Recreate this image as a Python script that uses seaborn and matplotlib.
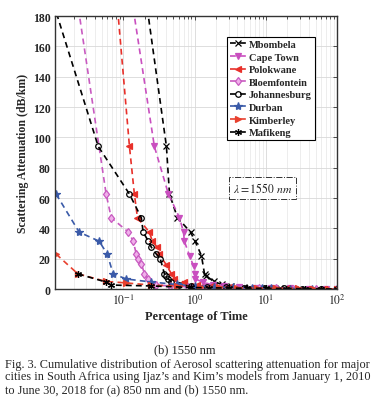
import matplotlib
matplotlib.use("Agg")
import pandas as pd
import matplotlib.pyplot as plt
import seaborn as sns
from matplotlib.ticker import LogLocator, NullFormatter, FixedLocator

# percentage of time (%) vs scattering attenuation (dB/km)
mbombela_pct = [0.196, 0.403, 0.445, 0.576, 0.878, 1.02, 1.25, 1.38, 1.47, 1.85, 2.4, 3.2, 5.0, 9.0, 16, 30, 55, 100]
mbombela_att = [200, 94, 62.6, 47, 37.5, 31.5, 22, 10, 8.6, 5, 3, 1.8, 1.2, 0.8, 0.5, 0.3, 0.2, 0]

capetown_pct = [0.123, 0.273, 0.43, 0.615, 0.70, 0.72, 0.85, 0.97, 1.0, 1.03, 1.3, 1.8, 2.6, 4.2, 7, 12, 22, 40, 70, 100]
capetown_att = [200, 94, 62.6, 47, 37.5, 31.5, 22, 15, 10, 6.6, 4.6, 2.6, 1.8, 1.2, 0.8, 0.6, 0.4, 0.3, 0.2, 0]

polokwane_pct = [0.078, 0.122, 0.143, 0.158, 0.232, 0.256, 0.30, 0.32, 0.40, 0.474, 0.52, 0.7, 1.1, 1.7, 3, 6, 11, 20, 38, 65, 100]
polokwane_att = [200, 94, 62.6, 47, 37.5, 31.5, 27.5, 23, 16, 10, 6.6, 4.6, 2.6, 1.8, 1.2, 0.8, 0.6, 0.4, 0.3, 0.2, 0]

bloem_pct = [0.021, 0.0574, 0.0677, 0.118, 0.138, 0.152, 0.163, 0.18, 0.198, 0.225, 0.291, 0.45, 0.8, 1.4, 2.3, 4.5, 8, 14, 26, 50, 100]
bloem_att = [200, 62.6, 47, 37.5, 31.5, 23, 20, 16.5, 10, 6.6, 2.6, 2, 1.5, 1.1, 0.8, 0.6, 0.5, 0.4, 0.3, 0.2, 0]

joburg_pct = [0.0105, 0.0445, 0.122, 0.179, 0.19, 0.225, 0.248, 0.291, 0.33, 0.378, 0.403, 0.43, 0.474, 0.6, 0.9, 1.5, 2.8, 5, 9.5, 18, 32, 60, 100]
joburg_att = [188, 94, 62.6, 47, 37.5, 31.5, 27.5, 23, 20, 10, 8.6, 6.6, 4.6, 2.6, 2, 1.4, 1.0, 0.7, 0.5, 0.4, 0.3, 0.2, 0]

durban_pct = [0.0114, 0.024, 0.0459, 0.0595, 0.072, 0.11, 0.248, 0.56, 1.0, 1.9, 3.5, 6.5, 8.8, 12, 22, 45, 100]
durban_att = [62.6, 37.5, 31.5, 23, 10, 6.6, 4.6, 3, 2, 1.4, 1.0, 0.7, 0.5, 0.4, 0.3, 0.2, 0]

kimberley_pct = [0.0114, 0.023, 0.057, 0.11, 0.248, 0.56, 1.2, 2.2, 4, 7.5, 14, 28, 48, 75, 100]
kimberley_att = [23, 10, 5, 4, 2.6, 2, 1.5, 1.1, 0.8, 0.6, 0.5, 0.4, 0.3, 0.2, 0]

mafikeng_pct = [0.023, 0.057, 0.068, 0.248, 0.9, 1.6, 3, 5.5, 10, 19, 35, 60, 100]
mafikeng_att = [10, 4.6, 2.6, 2, 1, 0.8, 0.6, 0.5, 0.4, 0.3, 0.2, 0.1, 0]

cities = ["Mbombela", "Cape Town", "Polokwane", "Bloemfontein",
          "Johannesburg", "Durban", "Kimberley", "Mafikeng"]
pcts = [mbombela_pct, capetown_pct, polokwane_pct, bloem_pct,
        joburg_pct, durban_pct, kimberley_pct, mafikeng_pct]
atts = [mbombela_att, capetown_att, polokwane_att, bloem_att,
        joburg_att, durban_att, kimberley_att, mafikeng_att]

colors = ["black", "#c94fbf", "#e8302a", "#c85ac0", "black", "#3a5aa8", "#e8402e", "black"]
markers = ["x", "v", "<", "d", "o", "*", ">", (6, 2, 0)]
facecolors = ["black", "#c94fbf", "#e8302a", "#f0b0ea", "none", "#3a5aa8", "#e8402e", "black"]
msizes = [4, 5, 5, 4.5, 4, 6, 5, 5]

rows = []
for city, p, a in zip(cities, pcts, atts):
    for x, y in zip(p, a):
        rows.append({"City": city, "Percentage": x, "Attenuation": y})
df = pd.DataFrame(rows)

sns.set_theme(style="whitegrid")
plt.rcParams["font.family"] = ["Liberation Serif", "DejaVu Serif"]
plt.rcParams["mathtext.fontset"] = "stix"

fig = plt.figure(figsize=(3.73, 4.02), dpi=100)
ax = fig.add_axes([0.1475, 0.2786, 0.756, 0.679])
ax.set_facecolor("white")

for i, city in enumerate(cities):
    sub = df[df["City"] == city]
    sns.lineplot(data=sub, x="Percentage", y="Attenuation", ax=ax,
                 color=colors[i], linewidth=1.2,
                 marker=markers[i], markersize=msizes[i],
                 markerfacecolor=facecolors[i], markeredgecolor=colors[i],
                 markeredgewidth=0.9, estimator=None, sort=False, label=city)

# dashed lines, as in the MATLAB original
for line in ax.get_lines():
    line.set_linestyle((0, (3.5, 2.5)))

ax.set_xscale("log")
ax.set_xlim(0.011, 100)
ax.set_ylim(0, 180)
ax.set_yticks(range(0, 181, 20))
ax.xaxis.set_major_locator(FixedLocator([0.1, 1, 10, 100]))
ax.xaxis.set_minor_locator(LogLocator(base=10, subs=range(2, 10)))
ax.xaxis.set_minor_formatter(NullFormatter())
ax.set_xticklabels([r"$10^{-1}$", r"$10^{0}$", r"$10^{1}$", r"$10^{2}$"], fontsize=8.5)
for lab in ax.get_yticklabels():
    lab.set_fontweight("bold")
    lab.set_fontsize(8.5)

ax.grid(True, which="major", color="#d8d8d8", linewidth=0.6)
ax.grid(True, which="minor", axis="x", color="#e6e6e6", linewidth=0.5)
for s in ax.spines.values():
    s.set_color("#333333")
    s.set_linewidth(1.0)
ax.tick_params(which="both", direction="in", top=True, right=True,
               length=3, width=0.6, color="#333333", pad=3)
ax.tick_params(which="minor", length=1.8)

ax.set_xlabel("Percentage of Time", fontweight="bold", fontsize=9, labelpad=2)
ax.set_ylabel("Scattering Attenuation (dB/km)", fontweight="bold", fontsize=8.5, labelpad=3)

handles, labels = ax.get_legend_handles_labels()
leg = ax.legend(handles, labels, loc="upper left", bbox_to_anchor=(0.61, 0.925), frameon=True,
                fancybox=False, edgecolor="black", framealpha=1,
                prop={"weight": "bold", "size": 7.5, "family": "Liberation Serif"},
                handlelength=1.5, handletextpad=0.3, labelspacing=0.32,
                borderpad=0.3, borderaxespad=0)
leg.get_frame().set_linewidth(0.8)

ax.text(0.735, 0.37, r"$\lambda = 1550\ nm$", transform=ax.transAxes,
        ha="center", va="center", fontsize=8.5,
        bbox=dict(boxstyle="square,pad=0.3", facecolor="white",
                  edgecolor="#333333", linestyle="-.", linewidth=0.7))

fig.text(0.496, 0.129, "(b) 1550 nm", ha="center", va="center", fontsize=9)
caption = ("Fig. 3. Cumulative distribution of Aerosol scattering attenuation for major\n"
           "cities in South Africa using Ijaz’s and Kim’s models from January 1, 2010\n"
           "to June 30, 2018 for (a) 850 nm and (b) 1550 nm.")
fig.text(0.013, 0.108, caption, ha="left", va="top", fontsize=8.8, linespacing=1.08)

fig.savefig("out.png", dpi=100)
plt.close(fig)
